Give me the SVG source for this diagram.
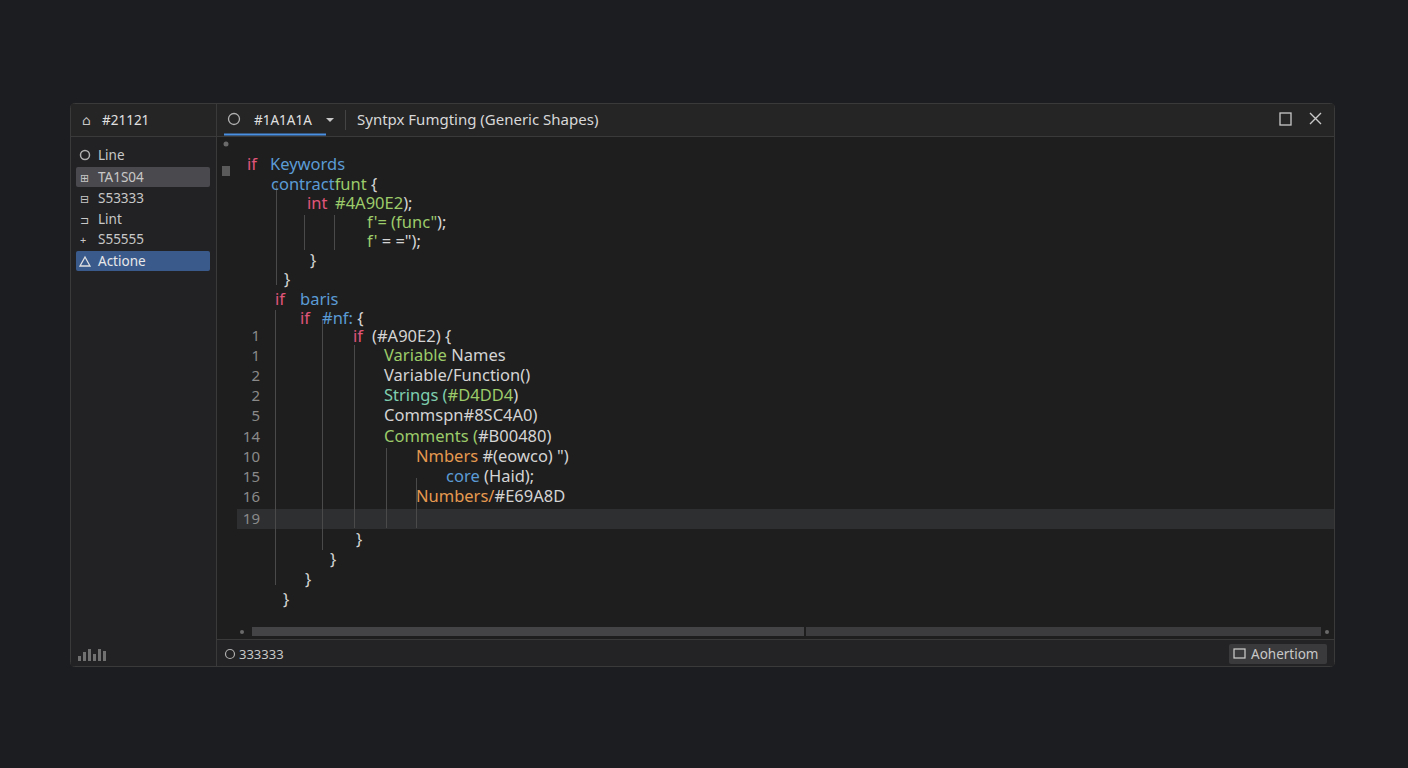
<svg xmlns="http://www.w3.org/2000/svg" width="1408" height="768" viewBox="0 0 1408 768">
<style>
text{font-family:"Noto Sans","DejaVu Sans",sans-serif}
.c{font-size:16.5px}
.k{fill:#E0557A}.b{fill:#5B9BD5}.g{fill:#9CCB6A}.t{fill:#7FCFB0}.w{fill:#D4D4D4}.o{fill:#E69A50}
.n{font-size:15px;fill:#8A8A8A;text-anchor:end}
.s{font-size:13.5px;fill:#C8C8C8}
.gl{stroke:#4A4A4A;stroke-width:1}
</style>
<rect width="1408" height="768" fill="#1C1D20"/>
<g id="window">
<rect x="70.5" y="103.5" width="1264" height="563" rx="4" fill="#1E1E1E" stroke="#3A3A3A"/>
<rect x="71" y="104" width="1263" height="32" fill="#252526"/>
<line x1="70" y1="136.5" x2="1334" y2="136.5" stroke="#3A3A3A"/>
<rect x="71" y="137" width="145" height="529" fill="#222224"/>
<line x1="216.5" y1="104" x2="216.5" y2="666" stroke="#3A3A3A"/>
<rect x="217" y="640" width="1117" height="26" fill="#232325"/>
<line x1="217" y1="639.5" x2="1334" y2="639.5" stroke="#3A3A3A"/>
</g>
<g id="titlebar">
<text x="82" y="125" class="s" fill="#E0E0E0">⌂</text>
<text x="102" y="125" class="s" style="fill:#E0E0E0">#21121</text>
<circle cx="234" cy="119" r="5.5" fill="none" stroke="#B0B0B0" stroke-width="1.3"/>
<text x="254" y="125" class="s" style="fill:#E0E0E0">#1A1A1A</text>
<path d="M326 118 l4 4 l4 -4z" fill="#C8C8C8"/>
<line x1="224" y1="134.5" x2="326" y2="134.5" stroke="#4A90E2" stroke-width="2"/>
<line x1="345.5" y1="110" x2="345.5" y2="130" stroke="#444"/>
<text x="357" y="125" style="font-size:15px;fill:#D8D8D8">Syntpx Fumgting (Generic Shapes)</text>
<rect x="1280" y="113" width="11" height="12" fill="none" stroke="#C8C8C8" stroke-width="1.3"/>
<path d="M1310 113 l11 11 M1321 113 l-11 11" stroke="#C8C8C8" stroke-width="1.4"/>
</g>
<g id="sidebar">
<rect x="76" y="167" width="134" height="20" rx="2" fill="#4A4A4E"/>
<rect x="76" y="251" width="134" height="20" rx="2" fill="#3A5A8C"/>
<circle cx="85" cy="155" r="4.5" fill="none" stroke="#B0B0B0" stroke-width="1.5"/>
<text x="98" y="160" class="s">Line</text>
<text x="80" y="182" class="s" style="font-size:11px">⊞</text><text x="98" y="182" class="s">TA1S04</text>
<text x="80" y="203" class="s" style="font-size:11px">⊟</text><text x="98" y="203" class="s">S53333</text>
<text x="80" y="224" class="s" style="font-size:11px">⊐</text><text x="98" y="224" class="s">Lint</text>
<text x="80" y="244" class="s" style="font-size:11px">+</text><text x="98" y="244" class="s">S55555</text>
<path d="M80 266 l5 -9 l5 9z" fill="none" stroke="#E0E0E0" stroke-width="1.3"/>
<text x="98" y="266" class="s" style="fill:#E8E8E8">Actione</text>
<g fill="#707070"><rect x="78" y="656" width="3" height="5"/><rect x="83" y="652" width="3" height="9"/><rect x="88" y="649" width="3" height="12"/><rect x="93" y="654" width="3" height="7"/><rect x="98" y="649" width="3" height="12"/><rect x="103" y="651" width="3" height="10"/></g>
</g>
<g id="gutter">
<circle cx="226" cy="144" r="2.5" fill="#6A6A6A"/>
<rect x="222" y="166" width="8" height="10" fill="#5A5A5A"/>
<rect x="237" y="509" width="1097" height="20" fill="#2E2F31"/>
<text x="260" y="341" class="n">1</text>
<text x="260" y="361" class="n">1</text>
<text x="260" y="381" class="n">2</text>
<text x="260" y="401" class="n">2</text>
<text x="260" y="421" class="n">5</text>
<text x="260" y="442" class="n">14</text>
<text x="260" y="462" class="n">10</text>
<text x="260" y="482" class="n">15</text>
<text x="260" y="502" class="n">16</text>
<text x="260" y="524" class="n">19</text>
</g>
<g id="guides">
<line class="gl" x1="276.5" y1="185" x2="276.5" y2="285"/>
<line class="gl" x1="304.5" y1="215" x2="304.5" y2="250"/>
<line class="gl" x1="334.5" y1="215" x2="334.5" y2="250"/>
<line class="gl" x1="275.5" y1="310" x2="275.5" y2="585"/>
<line class="gl" x1="322.5" y1="320" x2="322.5" y2="550"/>
<line class="gl" x1="354.5" y1="345" x2="354.5" y2="528"/>
<line class="gl" x1="386.5" y1="448" x2="386.5" y2="528"/>
<line class="gl" x1="416.5" y1="478" x2="416.5" y2="528"/>
</g>
<g id="code" class="c">
<text x="247" y="170"><tspan class="k">if</tspan><tspan class="b" x="270">Keywords</tspan></text>
<text x="271" y="190"><tspan class="b">contract</tspan><tspan class="g">funt</tspan><tspan class="w"> {</tspan></text>
<text x="307" y="209"><tspan class="k">int</tspan><tspan class="g" x="335">#4A90E2</tspan><tspan class="w">);</tspan></text>
<text x="367" y="228"><tspan class="g">f'= (func"</tspan><tspan class="w">);</tspan></text>
<text x="367" y="247"><tspan class="g">f'</tspan><tspan class="w"> = ="); </tspan></text>
<text x="310" y="266" class="w">}</text>
<text x="284" y="285" class="w">}</text>
<text x="275" y="305"><tspan class="k">if</tspan><tspan class="b" x="300">baris</tspan></text>
<text x="300" y="324"><tspan class="k">if</tspan><tspan class="b" x="322">#nf:</tspan><tspan class="w"> {</tspan></text>
<text x="353" y="342"><tspan class="k">if</tspan><tspan class="w" x="372">(#A90E2) {</tspan></text>
<text x="384" y="361"><tspan class="g">Variable</tspan><tspan class="w"> Names</tspan></text>
<text x="384" y="381" class="w">Variable/Function()</text>
<text x="384" y="401"><tspan class="t">Strings (</tspan><tspan class="g">#D4DD4</tspan><tspan class="w">)</tspan></text>
<text x="384" y="421" class="w">Commspn#8SC4A0)</text>
<text x="384" y="442"><tspan class="g">Comments (</tspan><tspan class="w">#B00480)</tspan></text>
<text x="416" y="462"><tspan class="o">Nmbers</tspan><tspan class="w"> #(eowco) ")</tspan></text>
<text x="446" y="482"><tspan class="b">core</tspan><tspan class="w"> (Haid);</tspan></text>
<text x="416" y="502"><tspan class="o">Numbers/</tspan><tspan class="w">#E69A8D</tspan></text>
<text x="356" y="545" class="w">}</text>
<text x="330" y="565" class="w">}</text>
<text x="305" y="585" class="w">}</text>
<text x="283" y="605" class="w">}</text>
</g>
<g id="scrollbar">
<circle cx="242" cy="632" r="2" fill="#6A6A6A"/>
<rect x="252" y="627" width="552" height="9" fill="#444446"/>
<rect x="806" y="627" width="515" height="9" fill="#3C3C3E"/>
<circle cx="1327" cy="632" r="2" fill="#6A6A6A"/>
</g>
<g id="status">
<circle cx="230" cy="654" r="4.5" fill="none" stroke="#B0B0B0" stroke-width="1.2"/>
<text x="239" y="659" class="s" style="font-size:13px">333333</text>
<rect x="1229" y="644" width="98" height="20" rx="2" fill="#3A3A3C"/>
<rect x="1234" y="649" width="11" height="9" fill="none" stroke="#D0D0D0" stroke-width="1.2"/>
<text x="1251" y="659" class="s" style="font-size:13.5px">Aohertiom</text>
</g>
</svg>
